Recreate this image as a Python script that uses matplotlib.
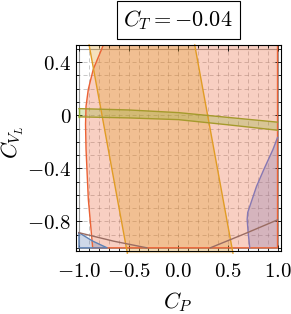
import numpy as np
import matplotlib
matplotlib.use('Agg')
import matplotlib.pyplot as plt
from matplotlib.ticker import MultipleLocator

plt.rcParams['mathtext.fontset'] = 'cm'

# --- data (C_P on x, C_VL on y) ---
# red region: curved left boundary, bounded by x=1 and y=-1
red_y = [0.53, 0.50, 0.347, 0.196, 0.068, -0.068, -0.256, -0.633, -1.0]
red_x = [-0.755, -0.771, -0.856, -0.906, -0.929, -0.934, -0.929, -0.906, -0.862]

# orange band: two parallel slanted lines
orange_y = [0.53, -1.04]
orange_left = [-0.898, -0.513]
orange_right = [0.166, 0.551]

# olive / green band, nearly horizontal
olive_x = [-1.0, -0.5, 0.0, 0.5, 1.0]
olive_top = [0.05, 0.04, 0.02, -0.016, -0.052]
olive_bot = [-0.012, -0.02, -0.033, -0.072, -0.113]

# purple region in the lower right corner
purple_x = [1.0, 0.954, 0.862, 0.788, 0.744, 0.700, 0.694, 0.704, 0.720]
purple_y = [-0.168, -0.258, -0.409, -0.537, -0.635, -0.733, -0.786, -0.883, -1.0]

# blue region in the lower left corner
blue_x = [-1.0, -0.86, -0.717]
blue_y = [-0.886, -0.95, -1.0]

# brown curve near the bottom edge
brown_lx = [-1.0, -0.65, -0.316]
brown_ly = [-0.886, -0.95, -1.0]
brown_rx = [0.323, 0.66, 1.0]
brown_ry = [-1.0, -0.897, -0.789]

xtick_vals = [-1.0, -0.5, 0.0, 0.5, 1.0]
xtick_labels = [r'$-1.0$', r'$-0.5$', r'$0.0$', r'$0.5$', r'$1.0$']
ytick_vals = [0.4, 0.0, -0.4, -0.8]
ytick_labels = [r'$0.4$', r'$0$', r'$-0.4$', r'$-0.8$']

c_blue = (0.368, 0.507, 0.710)
c_orange = (0.881, 0.611, 0.142)
c_green = (0.560, 0.692, 0.195)
c_red = (0.923, 0.386, 0.209)
c_purple = (0.528, 0.471, 0.701)
c_brown = '#9a6c62'
a = 0.3
lw = 1.0

fig = plt.figure(figsize=(2.91, 3.14), dpi=100)
ax = fig.add_axes([75.5 / 291, 63 / 314, 205.5 / 291, 206 / 314])
ax.set_xlim(-1.035, 1.035)
ax.set_ylim(-1.024, 0.53)

# dashed grid
for gx in np.arange(-9, 10) / 10:
    ax.axvline(gx, color='0.4', lw=0.7, ls=(0, (4.2, 3)), alpha=0.35, zorder=0)
for gy in np.arange(-9, 5) / 10:
    ax.axhline(gy, color='0.4', lw=0.7, ls=(0, (4.2, 3)), alpha=0.35, zorder=0)
ax.plot([-1, -1, 1, 1, -1], [-1, 0.5, 0.5, -1, -1], color='0.6', lw=0.8, zorder=0)

# red region
rx = red_x + [1.0, 1.0]
ry = red_y + [-1.0, 0.53]
ax.fill(rx, ry, color=c_red, alpha=a, lw=0, zorder=1)
ax.plot(red_x + [1.0, 1.0], red_y + [-1.0, 0.53], color=c_red, lw=lw, zorder=5)

# orange band (spills a little below the frame like the original)
ox = orange_left + orange_right[::-1]
oy = orange_y + orange_y[::-1]
ax.fill(ox, oy, color=c_orange, alpha=a, lw=0, zorder=2, clip_on=False)
ax.plot(orange_left, orange_y, color=c_orange, lw=lw, zorder=5, clip_on=False)
ax.plot(orange_right, orange_y, color=c_orange, lw=lw, zorder=5, clip_on=False)

# olive band
gx_poly = olive_x + olive_x[::-1] + [olive_x[0]]
gy_poly = olive_top + olive_bot[::-1] + [olive_top[0]]
ax.fill(gx_poly, gy_poly, color=c_green, alpha=a, lw=0, zorder=3)
ax.plot(olive_x, olive_top, color='#a59a2c', lw=lw, zorder=5)
ax.plot(olive_x, olive_bot, color='#a59a2c', lw=lw, zorder=5)
ax.plot([-1, -1], [olive_bot[0], olive_top[0]], color=c_green, lw=lw, zorder=5)

# purple region
ax.fill(purple_x + [1.0], purple_y + [-1.0], color=c_purple, alpha=a, lw=0, zorder=3)
ax.plot(purple_x, purple_y, color=c_purple, lw=lw, zorder=5)

# blue region
ax.fill(blue_x + [-1.0], blue_y + [-1.0], color=c_blue, alpha=a, lw=0, zorder=3)
ax.plot(blue_x + [-1.0, -1.0], blue_y + [-1.0, blue_y[0]], color=c_blue, lw=lw, zorder=5)

# brown curve
ax.plot(brown_lx, brown_ly, color=c_brown, lw=lw, zorder=6)
ax.plot(brown_rx, brown_ry, color=c_brown, lw=lw, zorder=6)

# frame and ticks
for s in ax.spines.values():
    s.set_linewidth(0.8)
    s.set_zorder(10)
ax.set_xticks(xtick_vals, xtick_labels)
ax.set_yticks(ytick_vals, ytick_labels)
ax.xaxis.set_minor_locator(MultipleLocator(0.1))
ax.yaxis.set_minor_locator(MultipleLocator(0.1))
ax.tick_params(which='both', direction='in', top=True, right=True, width=0.6)
ax.tick_params(which='major', length=4.5)
ax.tick_params(which='minor', length=2.5)
ax.tick_params(axis='x', labelsize=15, pad=7)
ax.tick_params(axis='y', labelsize=15, pad=3)

fig.text(178.25 / 291, 1 - 20 / 314, r'$C_T = -0.04$', ha='center', va='center', fontsize=16,
         bbox=dict(boxstyle='square,pad=0.3', fc='white', ec='black', lw=0.8))
fig.text(178.25 / 291, 1 - 302 / 314, r'$C_P$', ha='center', va='center', fontsize=16)
fig.text(12.5 / 291, 1 - 142 / 314, r'$C_{V_L}$', ha='center', va='center', fontsize=16, rotation=90)

fig.savefig('out.png', dpi=100)
